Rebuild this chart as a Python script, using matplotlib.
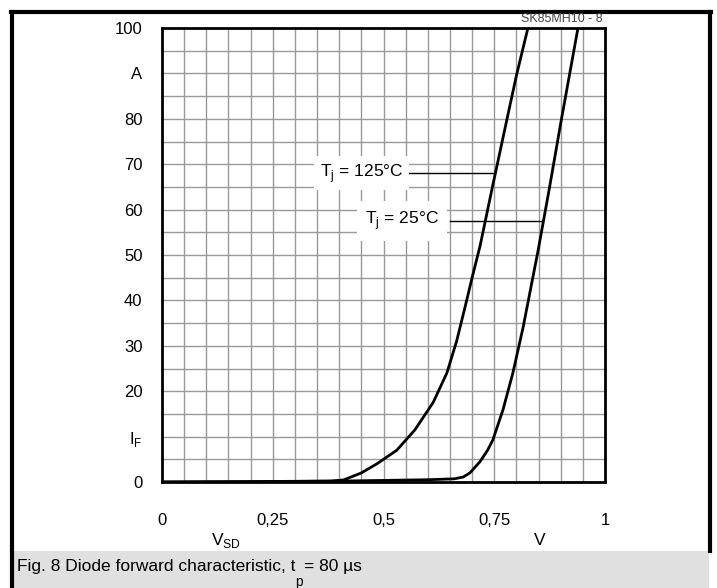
import numpy as np
import matplotlib.pyplot as plt
from matplotlib.lines import Line2D
from matplotlib.patches import Rectangle

plt.rcParams['font.family'] = ['Liberation Sans', 'DejaVu Sans']

# Diode forward characteristic
v_125 = [0.0, 0.20, 0.38, 0.41, 0.45, 0.485, 0.53, 0.571, 0.612, 0.643, 0.665, 0.684,
         0.70, 0.718, 0.747, 0.78, 0.80, 0.826]
i_125 = [0.0, 0.05, 0.2, 0.45, 2.0, 4.0, 7.0, 11.5, 17.5, 24.0, 31.0, 38.5,
         45.0, 52.0, 65.5, 80.5, 89.5, 100.0]

v_25 = [0.0, 0.40, 0.60, 0.66, 0.68, 0.695, 0.718, 0.735, 0.747, 0.770, 0.792, 0.815,
        0.826, 0.849, 0.875, 0.90, 0.939]
i_25 = [0.0, 0.2, 0.5, 0.7, 1.1, 2.0, 4.5, 7.0, 9.3, 16.0, 24.0, 34.0,
        39.5, 51.0, 65.0, 79.0, 100.0]

x_ticks = [0, 0.25, 0.5, 0.75, 1]
x_labels = ['0', '0,25', '0,5', '0,75', '1']
y_ticks = [0, 10, 20, 30, 40, 50, 60, 70, 80, 90, 100]
y_labels = ['0', r'I$_\mathregular{F}$', '20', '30', '40', '50', '60', '70', '80', 'A', '100']

W, H = 717, 588
fig = plt.figure(figsize=(W / 100, H / 100), dpi=100)
ax = fig.add_axes([162 / W, 1 - 482 / H, 443 / W, 454 / H])

# grid
for gx in np.arange(0.05, 1.0, 0.05):
    ax.axvline(gx, color='#999999', lw=1.0, zorder=1)
for gy in np.arange(5, 100, 5):
    ax.axhline(gy, color='#999999', lw=1.0, zorder=1)

ax.plot(v_125, i_125, color='black', lw=2, zorder=4)
ax.plot(v_25, i_25, color='black', lw=2, zorder=4)

ax.set_xlim(0, 1)
ax.set_ylim(0, 100)
ax.set_xticks(x_ticks)
ax.set_xticklabels(x_labels)
ax.set_yticks(y_ticks)
ax.set_yticklabels(y_labels)
ax.tick_params(length=0, labelsize=12, pad=14)
ax.tick_params(axis='x', pad=22)
for s in ax.spines.values():
    s.set_linewidth(2)
    s.set_zorder(5)

# curve labels with leader lines
y_lab1 = 68
x_end1 = np.interp(y_lab1, i_125, v_125)
ax.plot([0.545, x_end1], [y_lab1, y_lab1], color='black', lw=1, zorder=3)
ax.text(0.545, y_lab1, r'T$_\mathregular{j}$ = 125°C', ha='right', va='center', fontsize=12.5,
        zorder=3, bbox=dict(facecolor='white', edgecolor='none', pad=4))

y_lab2 = 57.5
x_end2 = np.interp(y_lab2, i_25, v_25)
ax.plot([0.65, x_end2], [y_lab2, y_lab2], color='black', lw=1, zorder=3)
ax.text(0.625, y_lab2, r'T$_\mathregular{j}$ = 25°C', ha='right', va='center', fontsize=12.5,
        zorder=3, bbox=dict(facecolor='white', edgecolor='none', pad=6))

# axis unit labels
ax.text(0.145, -0.128, r'V$_\mathregular{SD}$', transform=ax.transAxes, ha='center', va='center', fontsize=12.5)
ax.text(0.853, -0.128, 'V', transform=ax.transAxes, ha='center', va='center', fontsize=12.5)

fig.text(603 / W, 1 - 19 / H, 'SK85MH10 - 8', ha='right', va='center', fontsize=9, color='#444444')

# caption box and outer frame
fig.patches.append(Rectangle((13 / W, 0), 696 / W, 37 / H, transform=fig.transFigure,
                             facecolor='#e0e0e0', edgecolor='none'))
renderer = fig.canvas.get_renderer()
t1 = fig.text(17 / W, 1 - 566 / H, 'Fig. 8 Diode forward characteristic, t',
              ha='left', va='center', fontsize=12.5)
x1 = t1.get_window_extent(renderer).x1
t2 = fig.text(x1 / W, 1 - 582 / H, 'p', ha='left', va='center', fontsize=10)
x2 = t2.get_window_extent(renderer).x1
fig.text(x2 / W + 1 / W, 1 - 566 / H, '= 80 µs', ha='left', va='center', fontsize=12.5)

fig.lines.append(Line2D([11 / W, 711 / W], [1 - 12 / H, 1 - 12 / H], transform=fig.transFigure, color='black', lw=3))
fig.lines.append(Line2D([12 / W, 12 / W], [0, 1 - 12 / H], transform=fig.transFigure, color='black', lw=3))
fig.lines.append(Line2D([709.5 / W, 709.5 / W], [1 - 551 / H, 1 - 12 / H], transform=fig.transFigure, color='black', lw=3))

fig.savefig('out.png', dpi=100)
